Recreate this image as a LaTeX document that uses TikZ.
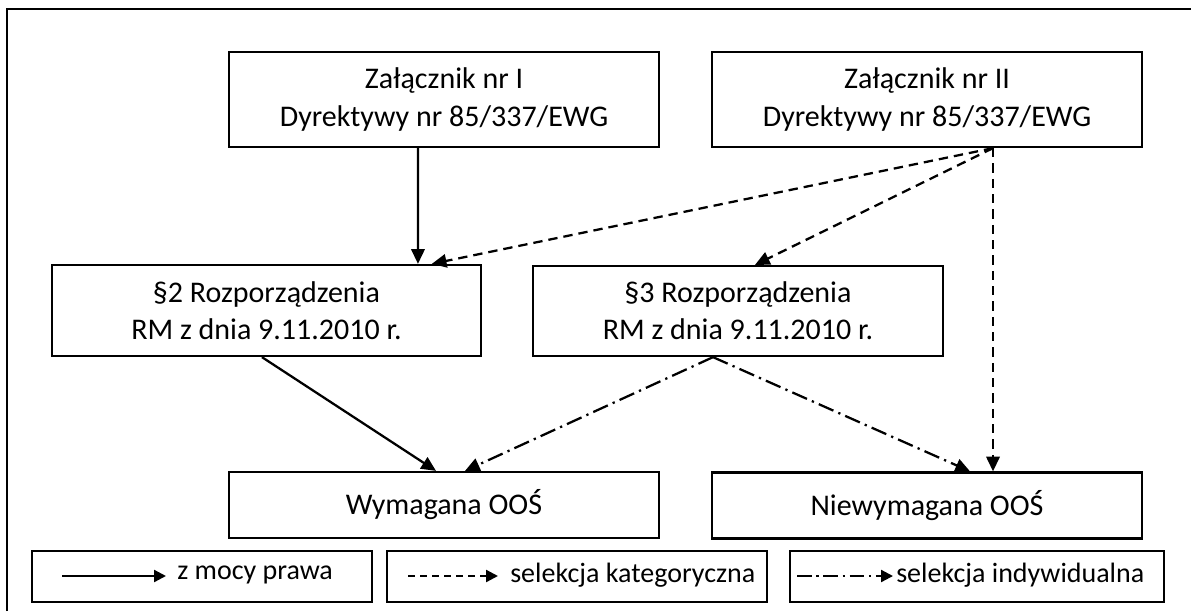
\documentclass[tikz,border=0pt]{standalone}
\usepackage{fontspec}
\setmainfont{Carlito}
\usetikzlibrary{arrows.meta,calc}
\begin{document}
\begin{tikzpicture}[x=0.75pt,y=-0.75pt,
  box/.style={draw,line width=1.7pt,inner sep=0pt,align=center,
    font=\fontsize{22.5pt}{28pt}\selectfont},
  legbox/.style={draw,line width=1.7pt,inner sep=0pt,minimum height=38.25pt},
  legtext/.style={inner sep=0pt,anchor=west,font=\fontsize{21pt}{24pt}\selectfont},
  conn/.style={line width=1.7pt,-{Triangle[length=11pt,width=10pt]}},
  solidconn/.style={conn},
  dashconn/.style={conn,dash pattern=on 7pt off 4.5pt},
  dotdashconn/.style={conn,dash pattern=on 12pt off 4pt on 1.7pt off 4pt},
  legarr/.style={line width=1.7pt,-{Triangle[length=9pt,width=9pt]}}]
\useasboundingbox (0,0) rectangle (1191,611);
\draw[line width=1.7pt] (7,611) -- (7,9) -- (1191,9);

\node[box,minimum width=322.5pt,minimum height=71.25pt] (A) at (444,99.5)
  {Załącznik nr I\\Dyrektywy nr 85/337/EWG};
\node[box,minimum width=322.5pt,minimum height=71.25pt] (B) at (927,99.5)
  {Załącznik nr II\\Dyrektywy nr 85/337/EWG};
\node[box,minimum width=321.75pt,minimum height=68.25pt] (C) at (266.5,310.5)
  {§2 Rozporządzenia\\RM z dnia 9.11.2010 r.};
\node[box,minimum width=307.5pt,minimum height=67.5pt] (D) at (738,311)
  {§3 Rozporządzenia\\RM z dnia 9.11.2010 r.};
\node[box,minimum width=322.5pt,minimum height=49.5pt] (E) at (444,505)
  {Wymagana OOŚ};
\node[box,minimum width=322.5pt,minimum height=49.5pt] (F) at (927,505.5)
  {Niewymagana OOŚ};

\draw[solidconn] ([xshift=-19.5pt]A.south) -- ([xshift=113.6pt]C.north);
\draw[dashconn] ([xshift=49.5pt]B.south) -- ([xshift=124pt]C.north);
\draw[dashconn] ([xshift=49.5pt]B.south) -- ([xshift=12.75pt]D.north);
\draw[dashconn] ([xshift=49.5pt]B.south) -- ([xshift=49.5pt]F.north);
\draw[solidconn] ([xshift=-3.4pt]C.south) -- ([xshift=-6pt]E.north);
\draw[dotdashconn] ([xshift=-18.75pt]D.south) -- ([xshift=15.75pt]E.north);
\draw[dotdashconn] ([xshift=-18.75pt]D.south) -- ([xshift=32.25pt]F.north);

\node[legbox,minimum width=255pt] (L1) at (202,576.5) {};
\node[legbox,minimum width=285pt] (L2) at (577,576.5) {};
\node[legbox,minimum width=280.5pt] (L3) at (977,576.5) {};
\coordinate (l1a) at (62,576);
\coordinate (l1b) at (166,576);
\coordinate (l2a) at (408,576);
\coordinate (l2b) at (498,576);
\coordinate (l3a) at (797,576);
\coordinate (l3b) at (893,576);
\draw[legarr] (l1a) -- (l1b);
\draw[legarr,dash pattern=on 5.5pt off 3.5pt] (l2a) -- (l2b);
\draw[legarr,dash pattern=on 11pt off 3.5pt on 1.7pt off 3.5pt] (l3a) -- (l3b);
\node[legtext] (t1) at (177,575) {z mocy prawa};
\node[legtext] (t2) at (510,575) {selekcja kategoryczna};
\node[legtext] (t3) at (896,575) {selekcja indywidualna};
\end{tikzpicture}
\end{document}
